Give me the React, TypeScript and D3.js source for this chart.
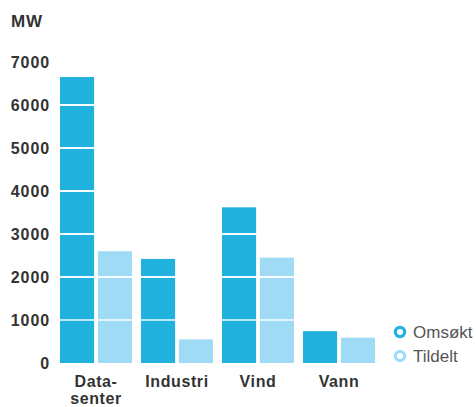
import React from "react";
import * as d3 from "d3";

const categories = ["Datasenter", "Industri", "Vind", "Vann"];
const categoryLines = [["Data-", "senter"], ["Industri"], ["Vind"], ["Vann"]];
const seriesNames = ["Omsøkt", "Tildelt"];
const omsokt = [6650, 2420, 3620, 740];
const tildelt = [2600, 550, 2450, 590];
const yTicks = [0, 1000, 2000, 3000, 4000, 5000, 6000, 7000];
const colors = ["#21b1dd", "#a0dbf6"];

export default function App() {
  const W = 476, H = 407;
  const x = d3.scaleBand<string>().domain(categories).range([55.5, 379.5]).padding(0);
  const xi = d3.scaleBand<string>().domain(seriesNames).range([4.5, 76.5]).paddingInner(0.1);
  const y = d3.scaleLinear().domain([0, 7000]).range([363, 62]);
  const values = [omsokt, tildelt];
  const font = "'Liberation Sans', Arial, sans-serif";
  return (
    <svg width={W} height={H} style={{ position: "absolute", left: 0, top: 0, background: "#fff" }} fontFamily={font}>
      <text x={11} y={27} fontSize={17} fontWeight="bold" fill="#333" letterSpacing={0.8}>MW</text>
      {yTicks.map((t) => (
        <text key={t} x={50} y={y(t)} dy="0.36em" textAnchor="end" fontSize={16} fontWeight="bold" fill="#333" letterSpacing={0.9}>{t}</text>
      ))}
      {categories.map((c, i) => (
        <g key={c}>
          {seriesNames.map((s, j) => (
            <rect key={s} x={(x(c) as number) + (xi(s) as number)} width={xi.bandwidth()} y={y(values[j][i])} height={y(0) - y(values[j][i])} fill={colors[j]} />
          ))}
        </g>
      ))}
      {yTicks.filter((t) => t > 0).map((t) => (
        <line key={t} x1={55} x2={385} y1={y(t)} y2={y(t)} stroke="#fff" strokeWidth={1.8} strokeOpacity={t === 1000 ? 0.7 : 0.95} />
      ))}
      {categories.map((c, i) => (
        <text key={c} x={(x(c) as number) + x.bandwidth() / 2} y={387} textAnchor="middle" fontSize={16} fontWeight="bold" fill="#333" letterSpacing={0.6}>
          {categoryLines[i].map((l, k) => (
            <tspan key={k} x={(x(c) as number) + x.bandwidth() / 2} dy={k === 0 ? 0 : 17}>{l}</tspan>
          ))}
        </text>
      ))}
      {seriesNames.map((s, j) => (
        <g key={s}>
          <circle cx={400} cy={332 + j * 24} r={4.6} fill="#fff" stroke={colors[j]} strokeWidth={3.2} />
          <text x={413} y={332 + j * 24} dy="0.36em" fontSize={17} fill="#555">{s}</text>
        </g>
      ))}
    </svg>
  );
}
